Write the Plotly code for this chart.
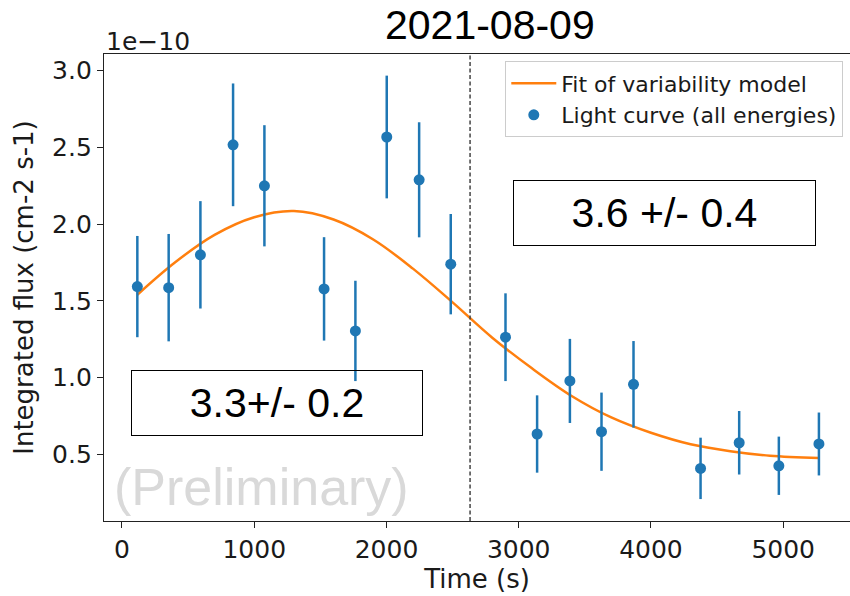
import plotly.graph_objects as go

# Light curve (flux in units of 1e-10 cm-2 s-1)
time_s = [116, 353, 593, 840, 1077, 1528, 1765, 2002, 2247, 2486,
          2900, 3139, 3387, 3626, 3868, 4375, 4667, 4967, 5270]
flux = [1.593, 1.586, 1.800, 2.517, 2.250, 1.578, 1.304, 2.568, 2.289, 1.739,
        1.263, 0.632, 0.978, 0.647, 0.956, 0.408, 0.575, 0.425, 0.567]
flux_err = [0.33, 0.35, 0.35, 0.40, 0.395, 0.337, 0.327, 0.40, 0.375, 0.327,
            0.286, 0.252, 0.274, 0.255, 0.282, 0.20, 0.207, 0.19, 0.205]

# Variability model fit, sampled along the time axis
fit_time = [116, 400, 700, 1000, 1300, 1600, 1900, 2200, 2500, 2800,
            3100, 3400, 3700, 4000, 4300, 4600, 4900, 5270]
fit_flux = [1.54, 1.75, 1.93, 2.045, 2.085, 2.03, 1.90, 1.71, 1.49, 1.26,
            1.06, 0.88, 0.74, 0.64, 0.565, 0.52, 0.49, 0.475]

split_time = 2632
date_label = "2021-08-09"
index_before = "3.3+/- 0.2"
index_after = "3.6 +/- 0.4"

y_ticks = [0.5, 1.0, 1.5, 2.0, 2.5, 3.0]
x_ticks = [0, 1000, 2000, 3000, 4000, 5000]

BLUE = "#1f77b4"
ORANGE = "#ff7f0e"
MPL_FONT = "DejaVu Sans"
ARIAL = "Liberation Sans"

fig = go.Figure()

fig.add_trace(go.Scatter(
    x=fit_time, y=fit_flux, mode="lines", line_shape="spline",
    line=dict(color=ORANGE, width=2.5),
    name="Fit of variability model",
))

fig.add_trace(go.Scatter(
    x=time_s, y=flux, mode="markers",
    marker=dict(color=BLUE, size=11),
    error_y=dict(type="data", array=flux_err, color=BLUE, thickness=2.5, width=0),
    name="Light curve (all energies)",
))

fig.add_shape(type="line", xref="x", yref="paper",
              x0=split_time, x1=split_time, y0=0, y1=1,
              line=dict(color="#444444", width=1.5, dash="4px,2.5px"))

axis_common = dict(
    showgrid=False, zeroline=False,
    showline=True, linecolor="#222222", linewidth=1.3,
    ticks="outside", ticklen=6, tickwidth=1.3, tickcolor="#222222",
    tickfont=dict(family=MPL_FONT, size=25, color="#1a1a1a"),
)

fig.update_xaxes(
    range=[-136, 5505], tickvals=x_ticks, ticktext=[str(v) for v in x_ticks],
    mirror=True,
    title=dict(text="Time (s)", font=dict(family=MPL_FONT, size=26, color="#1a1a1a"),
               standoff=4),
    **axis_common,
)
fig.update_yaxes(
    range=[0.065, 3.109], tickvals=y_ticks, ticktext=[f"{v:.1f}" for v in y_ticks],
    title=dict(text="Integrated flux (cm-2 s-1)",
               font=dict(family=MPL_FONT, size=26, color="#1a1a1a"), standoff=10),
    **axis_common,
)

annotations = [
    dict(text=date_label, xref="paper", yref="paper", x=0.517, y=1.0627,
         xanchor="center", yanchor="middle", showarrow=False,
         font=dict(family=ARIAL, size=41, color="black")),
    dict(text="1e\u221210", xref="paper", yref="paper", x=0.0, y=1.0268,
         xanchor="left", yanchor="middle", showarrow=False,
         font=dict(family=MPL_FONT, size=25, color="#1a1a1a")),
    dict(text=index_before, xref="paper", yref="paper", x=0.2319, y=0.2537,
         xanchor="center", yanchor="middle", showarrow=False,
         width=290, height=64, borderpad=0, bgcolor="rgba(0,0,0,0)",
         bordercolor="black", borderwidth=1,
         font=dict(family=ARIAL, size=41, color="black")),
    dict(text=index_after, xref="paper", yref="paper", x=0.752, y=0.659,
         xanchor="center", yanchor="middle", showarrow=False,
         width=301, height=64, borderpad=0, bgcolor="rgba(0,0,0,0)",
         bordercolor="black", borderwidth=1,
         font=dict(family=ARIAL, size=41, color="black")),
    dict(text="(Preliminary)", xref="paper", yref="paper", x=0.211, y=0.0734,
         xanchor="center", yanchor="middle", showarrow=False,
         font=dict(family=ARIAL, size=52, color="#d9d9d9")),
]

fig.update_layout(
    width=850, height=596,
    margin=dict(l=104, r=0, t=54, b=75),
    paper_bgcolor="white", plot_bgcolor="white",
    annotations=annotations,
    legend=dict(
        x=0.991, y=0.984, xanchor="right", yanchor="top",
        bgcolor="white", bordercolor="#cccccc", borderwidth=1,
        font=dict(family=MPL_FONT, size=22, color="#1a1a1a"),
        tracegroupgap=0, itemwidth=45,
    ),
)

fig.write_html("out.html")
